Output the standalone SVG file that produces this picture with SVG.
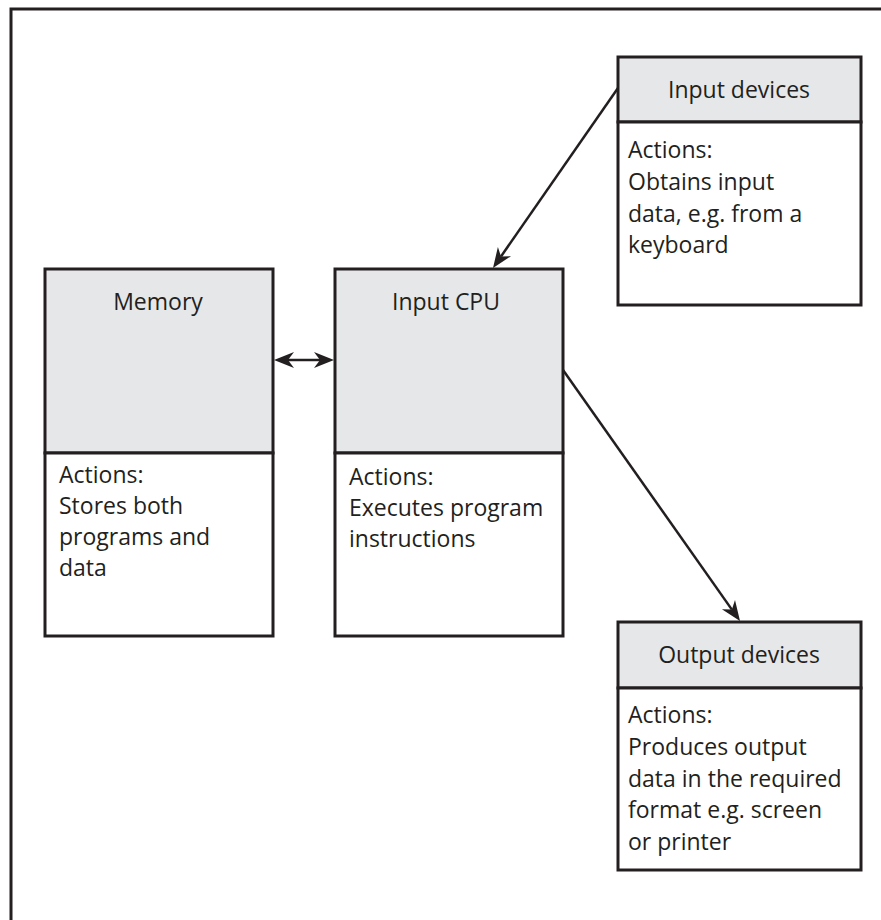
<svg xmlns="http://www.w3.org/2000/svg" width="881" height="920" viewBox="0 0 881 920">
<style>
.hd{fill:#e6e7e8;stroke:#231f20;stroke-width:3}
.bd{fill:#ffffff;stroke:#231f20;stroke-width:3}
.t{font-family:"Open Sans","Liberation Sans",sans-serif;font-size:23px;fill:#231f20}
.c{text-anchor:middle}
.ln{stroke:#231f20;stroke-width:2.5;fill:none}
.head{fill:#231f20;stroke:none}
</style>
<rect width="881" height="920" fill="#ffffff"/>
<path d="M11,920 L11,9 L881,9" fill="none" stroke="#231f20" stroke-width="3"/>
<g id="memory">
<rect class="hd" x="45" y="269" width="228" height="184"/>
<rect class="bd" x="45" y="453" width="228" height="183"/>
<text class="t c" x="158" y="310">Memory</text>
<text class="t" x="59" y="483">Actions:</text>
<text class="t" x="59" y="514">Stores both</text>
<text class="t" x="59" y="545">programs and</text>
<text class="t" x="59" y="576">data</text>
</g>
<g id="cpu">
<rect class="hd" x="335" y="269" width="228" height="184"/>
<rect class="bd" x="335" y="453" width="228" height="183"/>
<text class="t c" x="446" y="310">Input CPU</text>
<text class="t" x="349" y="485">Actions:</text>
<text class="t" x="349" y="516">Executes program</text>
<text class="t" x="349" y="547">instructions</text>
</g>
<g id="input">
<rect class="hd" x="618" y="57" width="243" height="65"/>
<rect class="bd" x="618" y="122" width="243" height="183"/>
<text class="t c" x="739" y="98">Input devices</text>
<text class="t" x="628" y="158">Actions:</text>
<text class="t" x="628" y="190">Obtains input</text>
<text class="t" x="628" y="222">data, e.g. from a</text>
<text class="t" x="628" y="253">keyboard</text>
</g>
<g id="output">
<rect class="hd" x="618" y="622" width="243" height="66"/>
<rect class="bd" x="618" y="688" width="243" height="182"/>
<text class="t c" x="739" y="663">Output devices</text>
<text class="t" x="628" y="723">Actions:</text>
<text class="t" x="628" y="755">Produces output</text>
<text class="t" x="628" y="787">data in the required</text>
<text class="t" x="628" y="818">format e.g. screen</text>
<text class="t" x="628" y="850">or printer</text>
</g>
<g id="connectors">
<line class="ln" x1="288" y1="360" x2="320" y2="360"/>
<path class="head" d="M274,360 L294,352 L288,360 L294,368 Z"/>
<path class="head" d="M334,360 L314,352 L320,360 L314,368 Z"/>
<line class="ln" x1="618" y1="88" x2="501" y2="256.5"/>
<path class="head" d="M493,268 L511,256.2 L501,256.5 L497.9,247 Z"/>
<line class="ln" x1="563" y1="370" x2="731.9" y2="609.6"/>
<path class="head" d="M740,621 L721.9,609.3 L731.9,609.6 L735,600 Z"/>
</g>
</svg>
